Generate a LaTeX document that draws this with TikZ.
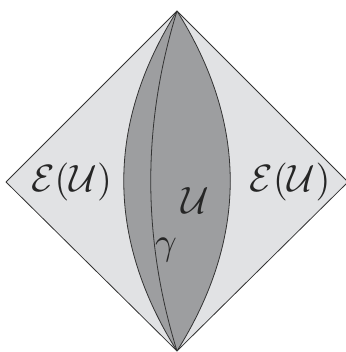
\documentclass[tikz,border=0pt]{standalone}
\definecolor{lightfill}{HTML}{E1E2E4}
\definecolor{darkfill}{HTML}{9D9EA0}
\definecolor{edge}{HTML}{333333}
\tikzset{
  edgeline/.style={draw=edge, line width=0.8pt, line join=round},
  biglabel/.style={inner sep=0pt, scale=3.8, text=black!85}
}
\begin{document}
\begin{tikzpicture}[x=1pt,y=1pt]
\useasboundingbox (0,0) rectangle (345,352);
\coordinate (T) at (177,341);
\coordinate (B) at (177,1);
\coordinate (L) at (6,170);
\coordinate (R) at (348,170);
% diamond
\fill[lightfill] (T) -- (R) -- (B) -- (L) -- cycle;
\draw[edgeline] (L) -- (T) -- (R);
\draw[edgeline] (L) -- (B) -- (R);
% lens
\fill[darkfill] (T) .. controls (106,228) and (106,114) .. (B)
  .. controls (248,114) and (248,228) .. (T) -- cycle;
\draw[edgeline] (T) .. controls (106,228) and (106,114) .. (B);
\draw[edgeline] (T) .. controls (248,228) and (248,114) .. (B);
\draw[edgeline] (T) .. controls (142,228) and (142,114) .. (B);
% labels
\node[biglabel] (EL) at (71.5,169.5) {$\mathcal{E}(\mathcal{U})$};
\node[biglabel] (ER) at (290,169.5) {$\mathcal{E}(\mathcal{U})$};
\node[biglabel] (U) at (195,151) {$\mathcal{U}$};
\node[biglabel] (g) at (166,101.5) {$\gamma$};
\end{tikzpicture}
\end{document}
